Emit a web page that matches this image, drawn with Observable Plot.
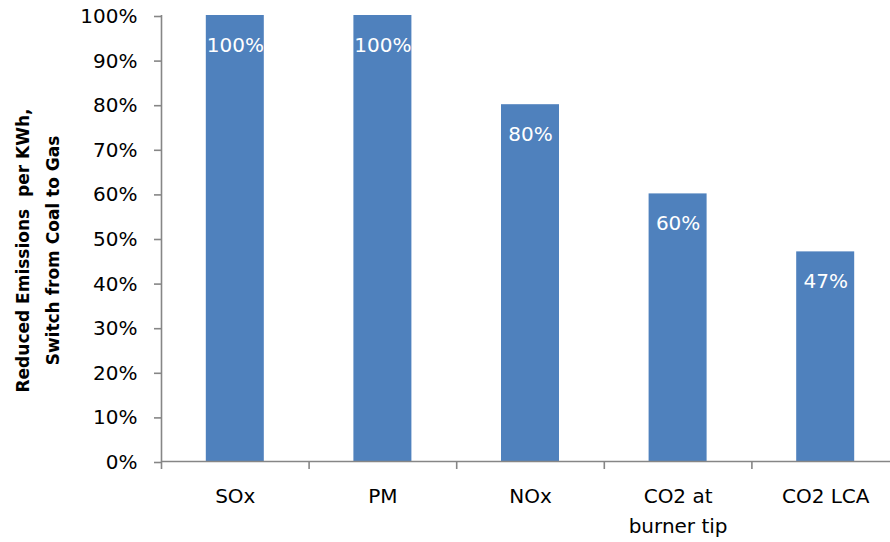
<!DOCTYPE html>
<html>
<head>
<meta charset="utf-8">
<script src="https://cdn.jsdelivr.net/npm/d3@7"></script>
<script src="https://cdn.jsdelivr.net/npm/@observablehq/plot@0.6"></script>
<style>
  html, body { margin: 0; padding: 0; background: #fff; }
  svg text { white-space: pre; }
</style>
</head>
<body>
<div id="chart"></div>
<script>
// Pollutant categories along the x axis
const categories = ["SOx", "PM", "NOx", "CO2 at\nburner tip", "CO2 LCA"];
// Reduction in emissions per kWh (percent) when switching from coal to gas
const reductions = [100, 100, 80, 60, 47];
// Y axis ticks (percent)
const yTicks = [0, 10, 20, 30, 40, 50, 60, 70, 80, 90, 100];

const rows = categories.map((c, i) => ({i, category: c, value: reductions[i]}));

const axisGrey = "#868686";
const barBlue = "#4F81BD";
const font = "DejaVu Sans, sans-serif";

const chart = Plot.plot({
  width: 890,
  height: 542,
  marginLeft: 161,
  marginRight: -9,
  marginTop: 15,
  marginBottom: 81,
  style: {fontFamily: font, fontSize: "20px", color: "#000", background: "#fff"},
  x: {type: "linear", domain: [0, categories.length], range: [161, 899]},
  y: {domain: [0, 100], range: [461, 15]},
  marks: [
    // bars, one per category band
    Plot.rectY(rows, {
      x1: d => d.i,
      x2: d => d.i + 1,
      y1: 0,
      y2: "value",
      insetLeft: 44.8,
      insetRight: 44.8,
      fill: barBlue
    }),
    // value labels inside the bars
    Plot.text(rows, {
      x: d => d.i + 0.5,
      y: "value",
      text: d => `${d.value}%`,
      dy: 30,
      fill: "white",
      fontSize: 20,
      fontFamily: font
    }),
    // axis lines
    Plot.ruleX([0], {stroke: axisGrey, strokeWidth: 1.6}),
    Plot.ruleY([0], {stroke: axisGrey, strokeWidth: 1.6}),
    // y axis ticks and percent labels
    Plot.axisY({
      ticks: yTicks,
      tickSize: 7,
      tickPadding: 17,
      tickFormat: d => `${d}%`,
      stroke: axisGrey,
      strokeWidth: 1.6,
      fill: "#000",
      fontSize: 20,
      fontFamily: font,
      dy: 1,
      label: null
    }),
    // category boundary ticks below the baseline
    Plot.axisX({
      ticks: d3.range(0, categories.length + 1),
      tickSize: 8,
      tickFormat: () => "",
      stroke: axisGrey,
      strokeWidth: 1.6,
      label: null
    }),
    // category names centred under each band
    Plot.text(rows, {
      x: d => d.i + 0.5,
      frameAnchor: "bottom",
      text: "category",
      lineAnchor: "top",
      lineHeight: 1.5,
      dy: 20,
      fill: "#000",
      fontSize: 20,
      fontFamily: font
    }),
    // y axis title
    Plot.text(["Reduced Emissions  per KWh,\nSwitch from Coal to Gas"], {
      frameAnchor: "left",
      textAnchor: "middle",
      rotate: -90,
      dx: -127,
      dy: 12,
      lineAnchor: "middle",
      lineHeight: 30 / 17,
      fontWeight: "bold",
      fontSize: 17,
      fontFamily: font,
      fill: "#000"
    })
  ]
});

document.getElementById("chart").append(chart);
</script>
</body>
</html>
